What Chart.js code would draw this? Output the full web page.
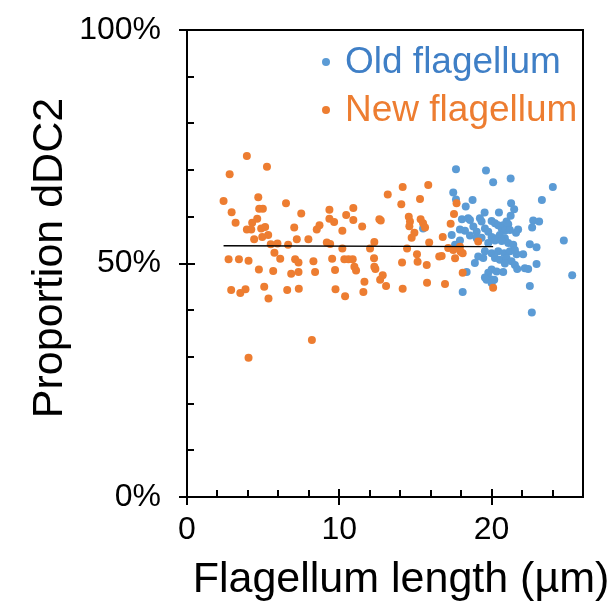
<!DOCTYPE html>
<html>
<head>
<meta charset="utf-8">
<script src="https://cdn.jsdelivr.net/npm/chart.js@4"></script>
<style>
  html, body { margin: 0; padding: 0; background: #fff; }
  #wrap { width: 616px; height: 611px; }
</style>
</head>
<body>
<div id="wrap"><canvas id="chart" width="616" height="611"></canvas></div>
<script>
// Old flagellum (blue)
const oldX = [17.66, 19.63, 20.1, 21.25, 24.02, 17.48, 17.66, 18.75, 23.3, 18.3, 21.28, 21.48, 21.25, 19.54, 20.48,
  18.05, 18.46, 18.58, 19.23, 19.34, 20.0, 20.22, 20.43, 20.98, 21.09, 20.76, 22.73, 23.12, 22.66, 21.74, 21.6,
  17.92, 18.25, 18.8, 19.02, 19.56, 19.78, 20.66, 20.87, 21.2, 17.38, 18.58, 19.02, 19.34, 20.0, 20.33, 20.54, 20.87,
  24.74, 17.92, 19.78, 20.22, 20.66, 21.09, 21.42, 22.51, 22.95, 19.56, 20.0, 20.43, 20.83, 21.2, 21.64, 22.07, 21.53,
  19.12, 19.45, 20.22, 20.54, 20.98, 21.31, 18.9, 20.87, 21.53, 22.95, 21.68, 22.18, 22.4, 20.76, 18.36, 20.0, 19.78,
  20.33, 19.56, 19.89, 20.17, 19.67, 20.0, 25.29, 22.51, 18.1, 22.64, 15.5, 17.6];
const oldY = [70.2, 69.9, 67.4, 68.2, 66.4, 65.2, 63.7, 63.6, 63.6, 62.2, 62.9, 61.6, 60.2, 60.9, 60.9,
  59.5, 59.7, 59.3, 59.7, 59.0, 59.1, 58.6, 58.2, 59.0, 58.4, 58.2, 59.2, 59.0, 57.7, 57.3, 56.6,
  57.3, 57.0, 57.9, 56.8, 57.5, 56.8, 57.5, 57.0, 57.2, 56.1, 56.0, 55.4, 55.5, 55.7, 55.4, 56.1, 55.4,
  54.9, 54.9, 54.4, 54.9, 54.8, 54.4, 54.0, 54.1, 53.5, 52.6, 52.2, 52.6, 52.2, 52.6, 52.0, 52.0, 52.9,
  51.5, 51.2, 51.2, 50.8, 51.2, 50.5, 50.1, 50.0, 49.7, 49.9, 48.8, 49.0, 48.8, 48.2, 48.2, 48.7, 48.0,
  48.3, 47.0, 46.7, 46.5, 46.5, 45.8, 47.5, 45.2, 43.9, 39.5, 57.5, 54.0];

// New flagellum (orange)
const newX = [3.93, 5.25, 2.8, 2.4, 4.68, 6.5, 2.93, 4.74, 4.98, 7.5, 3.19, 4.61, 4.28, 3.93, 4.22, 4.87, 5.13, 7.04,
  4.41, 4.94, 5.33, 7.21, 7.97, 8.52, 8.7, 5.5, 5.94, 6.64,
  5.74, 6.12, 2.73, 3.41, 4.04, 7.1, 7.32, 8.3, 4.72, 5.66, 6.84, 7.32, 8.41, 2.9, 3.5, 3.84, 5.07, 5.35, 6.58, 7.34,
  8.2, 4.04,
  14.16, 15.84, 13.18, 14.07, 15.3, 9.35, 10.92, 10.45, 10.92, 9.35, 9.66, 11.5, 12.63, 12.72, 10.2, 14.56, 14.64, 14.6,
  15.34, 15.5, 15.63, 14.93, 14.75, 15.9, 9.18, 9.4, 10.2, 12.3, 12.02, 14.45, 9.53, 10.33, 10.6, 10.88, 10.99, 11.1,
  9.72, 12.28, 12.3, 12.37, 11.65, 12.68, 12.85, 13.07, 14.12, 15.1, 15.14, 15.74, 15.76, 16.56, 9.75, 10.38, 11.58, 14.16,
  17.7, 17.53, 17.31, 16.79, 19.12, 17.15, 17.48, 17.92, 17.97, 16.72, 17.6, 18.1, 18.1, 16.94, 20.1];
const newY = [73.0, 70.7, 69.1, 63.4, 64.2, 62.9, 61.0, 61.7, 61.7, 60.7, 58.7, 59.6, 58.7, 57.3, 57.3, 57.5, 57.8, 57.7,
  55.2, 55.7, 56.1, 55.2, 55.2, 57.3, 58.2, 54.1, 54.3, 54.0,
  52.3, 51.0, 50.9, 50.9, 50.6, 50.9, 50.2, 50.5, 48.7, 48.4, 47.8, 48.2, 48.2, 44.3, 43.7, 44.5, 45.0, 42.5, 44.3, 44.6,
  33.6, 29.8,
  66.4, 66.8, 64.8, 62.7, 63.8, 61.5, 61.9, 60.4, 59.3, 59.6, 58.9, 57.9, 59.5, 59.2, 57.0, 60.0, 59.0, 58.0,
  59.5, 58.6, 57.7, 56.6, 55.5, 54.5, 54.5, 54.2, 53.2, 54.6, 53.2, 53.2, 51.0, 50.9, 50.9, 50.9, 49.3, 48.5,
  48.6, 51.1, 49.3, 48.8, 46.1, 46.5, 47.5, 45.2, 50.2, 52.0, 50.4, 49.7, 45.9, 51.5, 44.5, 43.0, 43.9, 44.6,
  62.9, 60.6, 58.5, 55.7, 54.7, 53.3, 52.9, 53.6, 52.5, 51.6, 51.1, 52.2, 48.0, 45.6, 44.8];

// linear trendline of new flagellum
const trendX = [2.4, 20.1];
const trendY = [53.8, 53.6];

const xTicks = [0, 10, 20];
const yTicks = [0, 50, 100];

const xTitle = 'Flagellum length (µm)';
const yTitle = 'Proportion dDC2';

const FONT = '"Liberation Sans", Arial, sans-serif';

function toPoints(xs, ys) {
    return xs.map((x, i) => ({ x: x, y: ys[i] }));
}

// plot frame, excel-style tick marks, axis titles and in-chart legend
const excelFrame = {
    id: 'excelFrame',
    afterDraw(chart) {
        const ctx = chart.ctx;
        const area = chart.chartArea;
        const xs = chart.scales.x;
        const ys = chart.scales.y;
        ctx.save();
        ctx.strokeStyle = '#000';
        ctx.lineWidth = 2;
        ctx.beginPath();
        ctx.moveTo(area.left, area.top);
        ctx.lineTo(area.left, area.bottom);
        ctx.lineTo(area.right, area.bottom);
        ctx.lineTo(area.right, area.top);
        ctx.lineTo(area.left, area.top);
        // x ticks (major cross, minor inside)
        for (let v = xs.min; v <= xs.max; v += 2) {
            const px = Math.round(xs.getPixelForValue(v));
            if (v % 10 === 0) {
                ctx.moveTo(px, area.bottom - 8);
                ctx.lineTo(px, area.bottom + 8);
            } else {
                ctx.moveTo(px, area.bottom - 7);
                ctx.lineTo(px, area.bottom);
            }
        }
        // y ticks
        for (let v = ys.min; v <= ys.max; v += 10) {
            const py = Math.round(ys.getPixelForValue(v));
            if (v % 50 === 0) {
                ctx.moveTo(area.left - 8, py);
                ctx.lineTo(area.left + 8, py);
            } else {
                ctx.moveTo(area.left, py);
                ctx.lineTo(area.left + 7, py);
            }
        }
        ctx.stroke();

        // axis titles
        ctx.fillStyle = '#000';
        ctx.font = '43px ' + FONT;
        ctx.textAlign = 'center';
        ctx.textBaseline = 'middle';
        ctx.fillText(xTitle, 401, 580);
        ctx.save();
        ctx.translate(50, 258);
        ctx.rotate(-Math.PI / 2);
        ctx.fillText(yTitle, 0, 0);
        ctx.restore();

        // legend
        const items = [
            { ds: chart.data.datasets[0], y: 62, text: '#3F7FC6' },
            { ds: chart.data.datasets[1], y: 110, text: '#ED7D31' }
        ];
        ctx.font = '37px ' + FONT;
        ctx.textAlign = 'left';
        items.forEach(it => {
            ctx.fillStyle = it.ds.backgroundColor;
            ctx.beginPath();
            ctx.arc(326, it.y, 4, 0, Math.PI * 2);
            ctx.fill();
            ctx.fillStyle = it.text;
            ctx.fillText(it.ds.label, 345, it.y + 1);
        });
        ctx.restore();
    }
};

new Chart(document.getElementById('chart'), {
    type: 'scatter',
    data: {
        datasets: [
            {
                label: 'Old flagellum',
                data: toPoints(oldX, oldY),
                backgroundColor: '#5B9BD5',
                borderWidth: 0,
                pointRadius: 4,
                order: 2
            },
            {
                label: 'New flagellum',
                data: toPoints(newX, newY),
                backgroundColor: '#ED7D31',
                borderWidth: 0,
                pointRadius: 4,
                order: 1
            },
            {
                type: 'line',
                label: 'Trend',
                data: toPoints(trendX, trendY),
                borderColor: '#000',
                borderWidth: 1.3,
                pointRadius: 0,
                showLine: true,
                fill: false,
                order: 0
            }
        ]
    },
    options: {
        responsive: false,
        animation: false,
        events: [],
        layout: { padding: { left: 0, right: 33, top: 30, bottom: 0 } },
        plugins: {
            legend: { display: false },
            tooltip: { enabled: false }
        },
        scales: {
            x: {
                type: 'linear',
                min: 0,
                max: 26,
                afterBuildTicks: s => { s.ticks = xTicks.map(v => ({ value: v })); },
                afterFit: s => { s.height = 114; s.paddingLeft = 0; s.paddingRight = 0; },
                grid: { display: false, drawTicks: false },
                border: { display: false },
                ticks: {
                    padding: 14,
                    color: '#000',
                    font: { family: FONT, size: 32 },
                    maxRotation: 0
                },
                title: { display: false }
            },
            y: {
                type: 'linear',
                min: 0,
                max: 100,
                afterBuildTicks: s => { s.ticks = yTicks.map(v => ({ value: v })); },
                afterFit: s => { s.width = 187; s.paddingTop = 0; s.paddingBottom = 0; },
                grid: { display: false, drawTicks: false },
                border: { display: false },
                ticks: {
                    padding: 26,
                    color: '#000',
                    font: { family: FONT, size: 32 },
                    callback: v => v + '%'
                },
                title: { display: false }
            }
        }
    },
    plugins: [excelFrame]
});
</script>
</body>
</html>
